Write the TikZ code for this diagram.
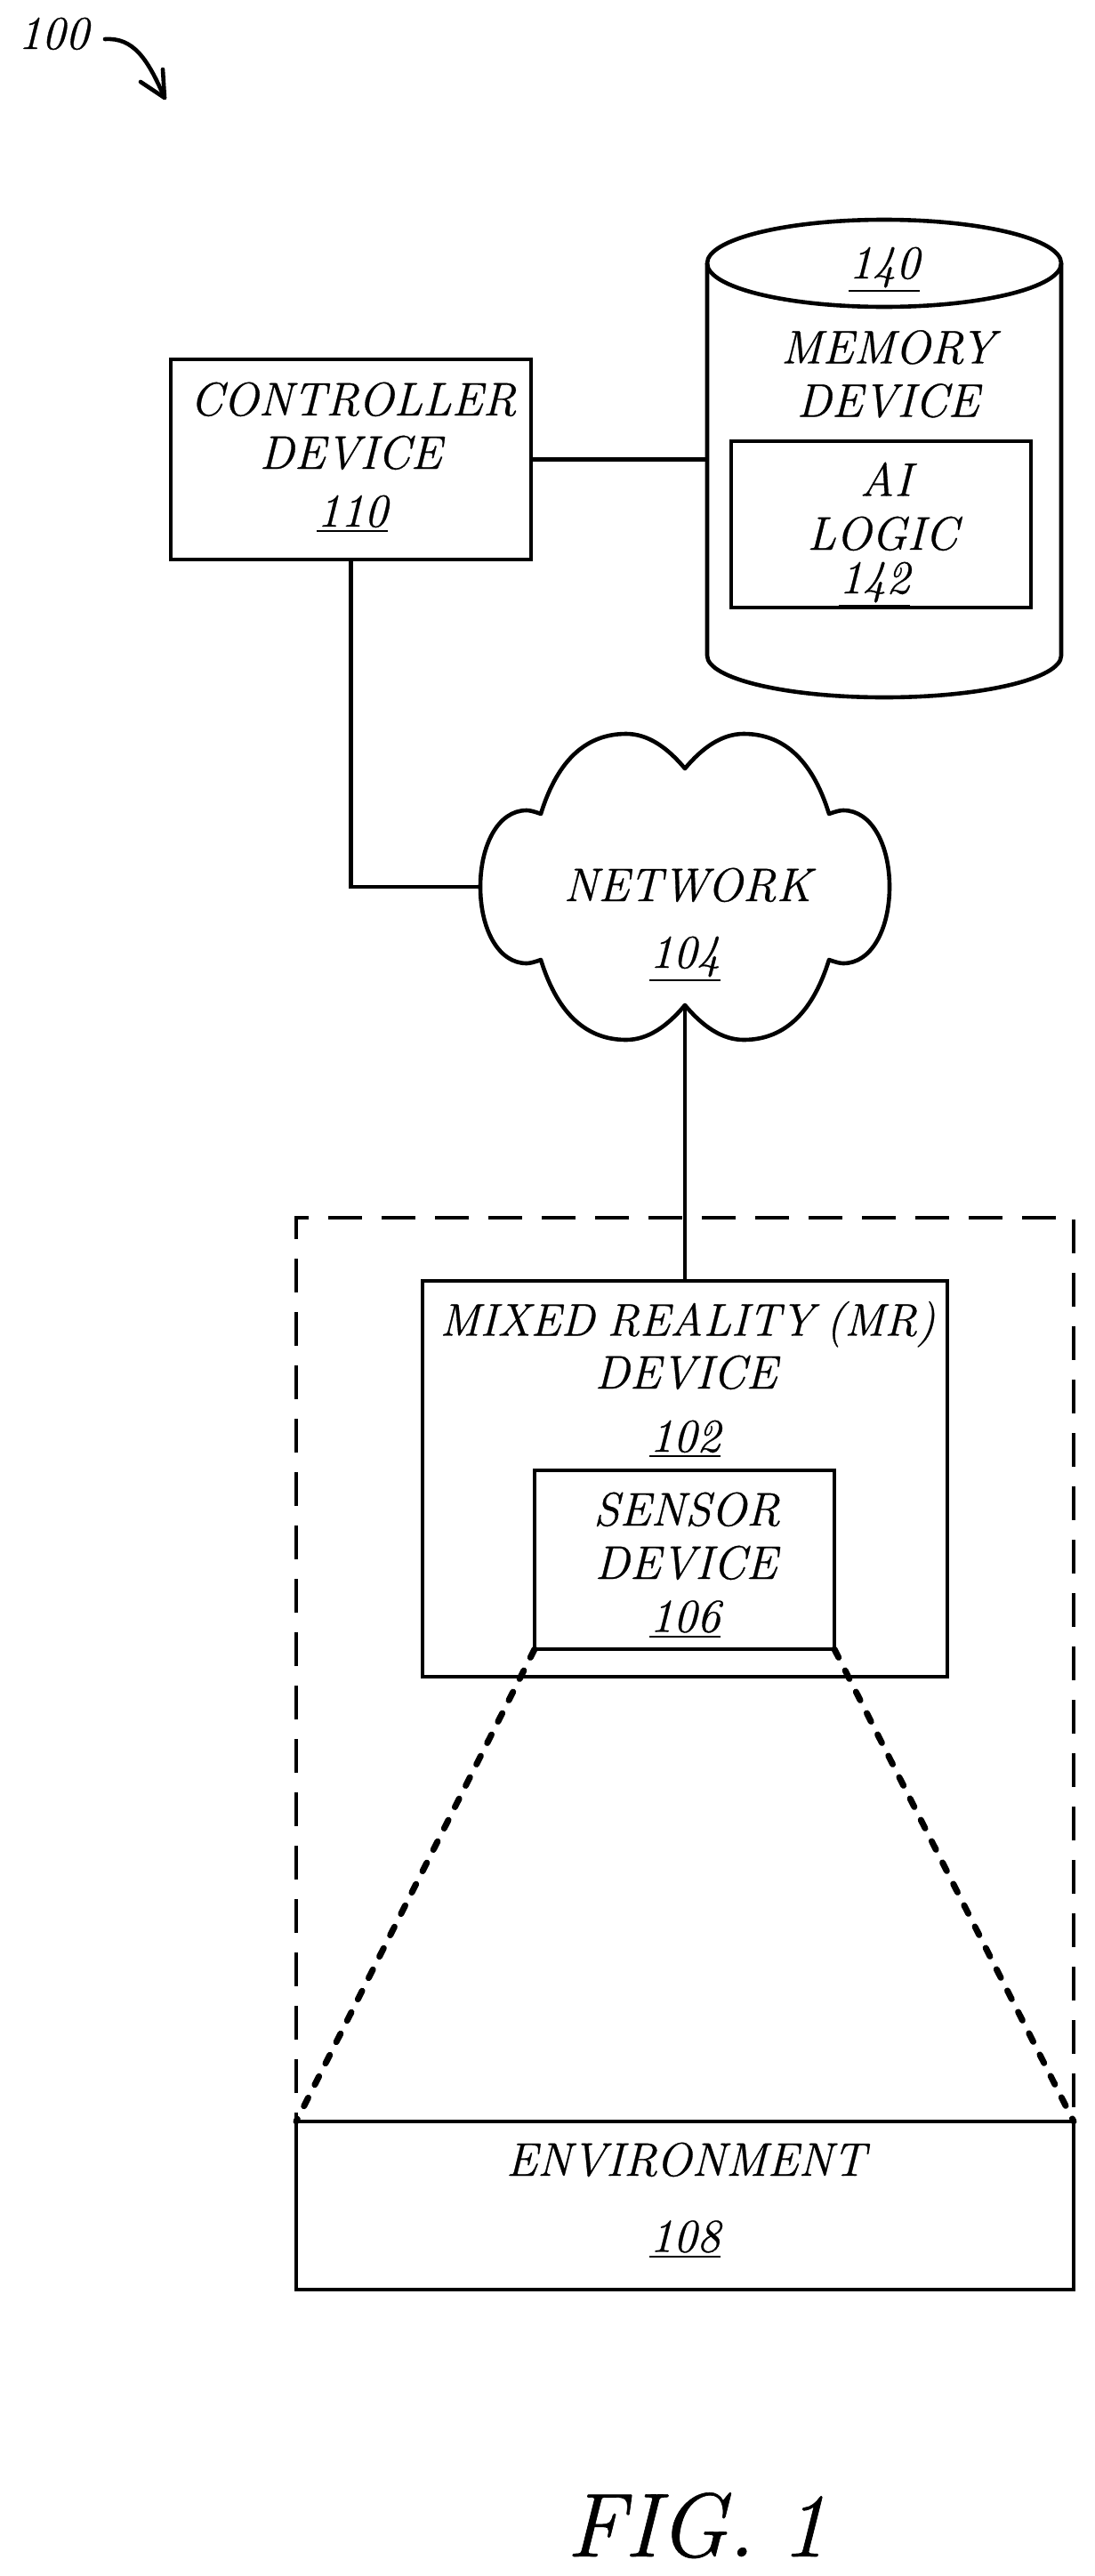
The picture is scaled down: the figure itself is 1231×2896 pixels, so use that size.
\documentclass[tikz,border=0pt]{standalone}
\usepackage{fontspec}
\setmainfont{Latin Modern Roman}[ItalicFeatures={FakeBold=0.6}]
\usetikzlibrary{calc}
\newcommand{\refnum}[1]{\vtop{\hbox{#1}\kern3pt\hrule height 2.2pt}}
\tikzset{
  ln/.style={line width=4.6pt,line join=miter,draw=black},
  boxnode/.style={ln,rectangle,inner sep=0pt,outer sep=0pt},
  ghost/.style={rectangle,inner sep=0pt,outer sep=0pt},
  txt/.style={inner sep=0pt,outer sep=0pt,anchor=base,font=\fontsize{53}{60}\selectfont\itshape},
  dashbox/.style={line width=4.6pt,dash pattern=on 38pt off 22pt,dash phase=28pt},
  fov/.style={line width=7pt,line cap=round,dash pattern=on 10.5pt off 16.4pt},
}
\begin{document}
\begin{tikzpicture}[x=1pt,y=-1pt]
\useasboundingbox (0,0) rectangle (1231,2896);
% reference label
\node[txt] (n100) at (60,55) {100};
\coordinate (arrS) at (118,44);
\coordinate (arrT) at (185,110);
\draw[line width=4.6pt,line cap=round,line join=round] (arrS) .. controls (150,42) and (166,66) .. (arrT);
\draw[line width=4.6pt,line cap=round,line join=round] (158,92) -- (arrT) -- (183,78);
% controller
\node[boxnode,minimum width=405pt,minimum height=225pt] (ctrl) at (394.5,516.5) {};
\node[txt] (ctrlA) at (397,467) {CONTROLLER};
\node[txt] (ctrlB) at (394,527) {DEVICE};
\node[txt] (ctrlC) at (396,592) {\refnum{110}};
% memory cylinder
\node[ghost,minimum width=398pt,minimum height=538pt] (mem) at (994,516) {};
\draw[ln] (795,296) -- (795,737) arc[start angle=180,end angle=360,x radius=199pt,y radius=47pt] -- (1193,296);
\draw[ln] (994,296) ellipse[x radius=199pt,y radius=49pt];
\node[txt] (memN) at (994,313) {\refnum{140}};
\node[txt] (memA) at (998,408.5) {MEMORY};
\node[txt] (memB) at (998,468.5) {DEVICE};
\node[boxnode,minimum width=337pt,minimum height=187pt] (ai) at (990.5,589.5) {};
\node[txt] (aiA) at (996,557.5) {AI};
\node[txt] (aiB) at (992,618) {LOGIC};
\node[txt] (aiC) at (983,667) {\refnum{142}};
% network cloud
\node[ghost,minimum width=460pt,minimum height=344pt] (net) at (770,997) {};
\coordinate (netB) at (770,1130);
\draw[ln,line join=round] (770,864)
  .. controls (790,840) and (812,825) .. (836,825)
  .. controls (885,825) and (915,860) .. (932,915)
  .. controls (940,912) and (945,911) .. (948,911)
  .. controls (980,911) and (1000,950) .. (1000,997)
  .. controls (1000,1044) and (980,1083) .. (948,1083)
  .. controls (945,1083) and (940,1082) .. (932,1079)
  .. controls (915,1134) and (885,1169) .. (836,1169)
  .. controls (812,1169) and (790,1154) .. (netB)
  .. controls (750,1154) and (728,1169) .. (704,1169)
  .. controls (655,1169) and (625,1134) .. (608,1079)
  .. controls (600,1082) and (595,1083) .. (592,1083)
  .. controls (560,1083) and (540,1044) .. (540,997)
  .. controls (540,950) and (560,911) .. (592,911)
  .. controls (595,911) and (600,912) .. (608,915)
  .. controls (625,860) and (655,825) .. (704,825)
  .. controls (728,825) and (750,840) .. cycle;
\node[txt] (netA) at (773,1013) {NETWORK};
\node[txt] (netC) at (770,1088) {\refnum{104}};
% mixed reality
\node[boxnode,minimum width=590pt,minimum height=445pt] (mr) at (770,1662.5) {};
\node[txt,font=\fontsize{51.4}{60}\selectfont\itshape] (mrA) at (773,1501.5) {MIXED\hspace{-4pt} REALITY\hspace{-4pt} (MR)};
\node[txt] (mrB) at (771,1561) {DEVICE};
\node[txt] (mrC) at (770,1632) {\refnum{102}};
\node[boxnode,minimum width=337pt,minimum height=201pt] (sens) at (769.5,1753.5) {};
\node[txt] (sensA) at (772,1715) {SENSOR};
\node[txt] (sensB) at (771,1775) {DEVICE};
\node[txt] (sensC) at (770,1834.5) {\refnum{106}};
% environment
\node[boxnode,minimum width=874pt,minimum height=189pt] (env) at (770,2479.5) {};
\node[txt] (envA) at (771,2446) {ENVIRONMENT};
\node[txt] (envC) at (770,2531.5) {\refnum{108}};
% dashed enclosure
\coordinate (dTL) at (333,1369);
\coordinate (dTR) at (1207,1369);
\draw[dashbox] (env.north west) -- (dTL) -- (dTR) -- (env.north east);
% connectors
\draw[ln] (ctrl.east) -- (mem.west |- ctrl.east);
\draw[ln] (ctrl.south) |- (net.west -| 540,997);
\draw[ln] (netB) -- (mr.north);
% field of view
\draw[fov] (sens.south west) -- (env.north west);
\draw[fov] (sens.south east) -- (env.north east);
% figure label
\node[txt,font=\fontsize{102}{110}\selectfont\itshape] (fig) at (783,2874) {FIG.\hspace{-6pt} 1};
\end{tikzpicture}
\end{document}
